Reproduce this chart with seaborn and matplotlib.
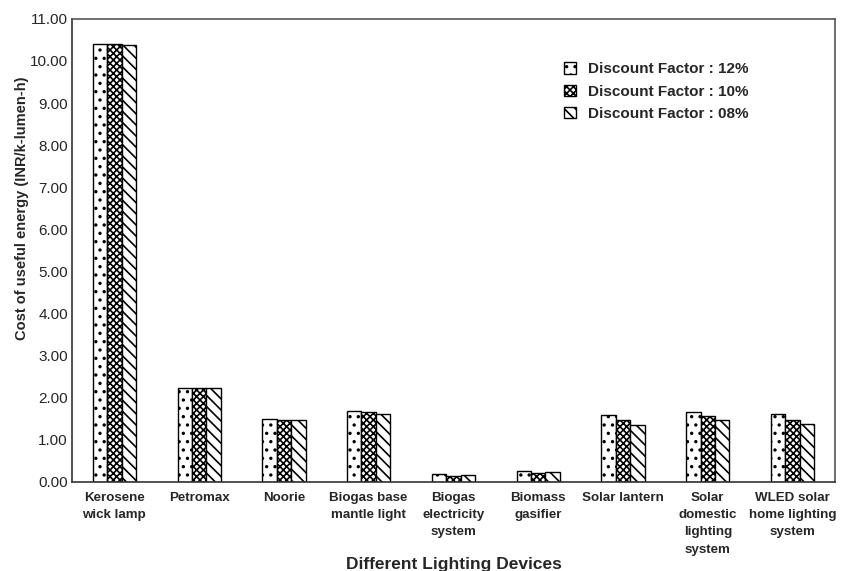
import matplotlib
matplotlib.use("Agg")
import matplotlib.pyplot as plt
import seaborn as sns
import pandas as pd

devices = ["Kerosene\nwick lamp", "Petromax", "Noorie", "Biogas base\nmantle light",
           "Biogas\nelectricity\nsystem", "Biomass\ngasifier", "Solar lantern",
           "Solar\ndomestic\nlighting\nsystem", "WLED solar\nhome lighting\nsystem"]
df12 = [10.41, 2.23, 1.50, 1.69, 0.19, 0.26, 1.60, 1.66, 1.62]
df10 = [10.41, 2.23, 1.47, 1.65, 0.15, 0.22, 1.47, 1.57, 1.47]
df08 = [10.39, 2.23, 1.48, 1.61, 0.16, 0.23, 1.35, 1.47, 1.38]
series = ["Discount Factor : 12%", "Discount Factor : 10%", "Discount Factor : 08%"]
yticks = [0, 1, 2, 3, 4, 5, 6, 7, 8, 9, 10, 11]

rows = []
for s, vals in zip(series, [df12, df10, df08]):
    for d, v in zip(devices, vals):
        rows.append({"device": d, "cost": v, "factor": s})
data = pd.DataFrame(rows)

sns.set_style("white")
plt.rcParams["font.family"] = ["Liberation Sans", "DejaVu Sans"]
plt.rcParams["hatch.linewidth"] = 1.2
plt.rcParams["hatch.color"] = "black"

fig = plt.figure(figsize=(8.43, 5.71), dpi=100)
ax = fig.add_axes([0.0854, 0.156, 0.905, 0.811])

sns.barplot(data=data, x="device", y="cost", hue="factor", order=devices,
            hue_order=series, palette=["white"] * 3, edgecolor="black",
            linewidth=1.0, width=0.51, gap=0, ax=ax, legend=True)

hatches = ["..", "xxxxx", "\\\\\\"]
for cont, h in zip(ax.containers, hatches):
    for p in cont.patches:
        p.set_hatch(h)
        p.set_edgecolor("black")

ax.set_xlim(-0.5, len(devices) - 0.5)
ax.set_ylim(0, 11)
ax.set_yticks(yticks)
ax.set_yticklabels([f"{v:.2f}" for v in yticks], fontsize=11)
ax.tick_params(axis="y", length=0, pad=3)
ax.tick_params(axis="x", length=0, pad=7)
for lab in ax.get_xticklabels():
    lab.set_fontweight("bold")
    lab.set_fontsize(9.6)
    lab.set_linespacing(1.6)
    lab.set_verticalalignment("top")
ax.set_ylabel("Cost of useful energy (INR/k-lumen-h)", fontsize=10.5, fontweight="bold")
ax.yaxis.set_label_coords(-0.056, 0.592)
ax.set_xlabel("Different Lighting Devices", fontsize=12.5, fontweight="bold", labelpad=1)

for side in ["left", "bottom"]:
    ax.spines[side].set_color("#333333")
    ax.spines[side].set_linewidth(1.2)
for side in ["top", "right"]:
    ax.spines[side].set_color("#555555")
    ax.spines[side].set_linewidth(1.2)

handles, labels = ax.get_legend_handles_labels()
for hdl, h in zip(handles, hatches):
    hdl.set_hatch(h)
leg = ax.legend(handles, labels, loc="upper left", bbox_to_anchor=(0.645, 0.906),
                frameon=False, borderpad=0, borderaxespad=0, handlelength=0.75,
                handleheight=0.75, handletextpad=0.8, labelspacing=0.55,
                prop={"weight": "bold", "size": 11})

fig.savefig("out.png", dpi=100)
